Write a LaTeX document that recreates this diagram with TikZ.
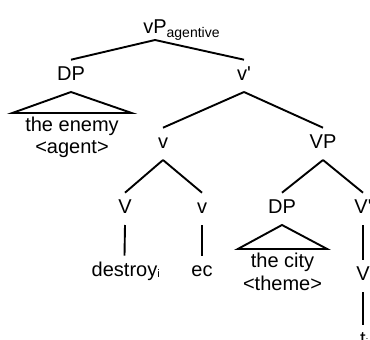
\documentclass[tikz,border=0pt]{standalone}
\usepackage{fontspec}
\setmainfont{Liberation Sans}
\newcommand\lowtxt[3]{\rlap{\raisebox{-#1}{\fontsize{#2}{#2}\selectfont #3}}}
\begin{document}
\begin{tikzpicture}[x=1pt,y=-1pt,
  cat/.style={font=\fontsize{20}{24}\selectfont, inner sep=0pt, outer sep=6pt,
    text height=14.3pt, text depth=6pt, anchor=base},
  phrase/.style={font=\fontsize{20}{24}\selectfont, inner xsep=13pt, inner ysep=3.7pt,
    outer sep=0pt, text height=14.3pt, text depth=0pt, anchor=base},
  role/.style={font=\fontsize{20}{24}\selectfont, inner sep=0pt, anchor=base},
  branch/.style={line width=1.9pt},
  roof/.style={line width=1.9pt, line join=miter}]
\useasboundingbox (0,0) rectangle (370,340);
\clip (0,0) rectangle (370,340);

% categories
\node[cat, text depth=1pt] (vP) at (155,33) {vP\lowtxt{4pt}{14}{agentive}};
\node[cat] (DPa) at (71,80) {DP};
\node[cat] (vbar) at (244,80) {v\textquotesingle};
\node[cat] (v) at (163,148) {v};
\node[cat] (VP) at (323,148) {VP};
\node[cat] (V) at (125,213) {V};
\node[cat] (vlow) at (202,213) {v};
\node[cat] (DPb) at (282,213) {DP};
\node[cat] (Vbar) at (363,213) {V\textquotesingle};
\node[cat] (Vlow) at (363,280) {V};

% terminals
\node[cat] (destroy) at (124.5,276) {destroy\lowtxt{1pt}{11}{i}};
\node[cat] (ec) at (202,276) {ec};
\node[cat] (trace) at (363,345) {t\lowtxt{1pt}{11}{i}};

% phrases under roofs
\node[phrase] (enemy) at (72,131) {the enemy};
\node[role] (agent) at (72,153) {<agent>};
\node[phrase] (city) at (282.5,267) {the city};
\node[role] (theme) at (282.5,290) {<theme>};

% branches
\draw[branch] (vP.south) -- (DPa.north);
\draw[branch] (vP.south) -- (vbar.north);
\draw[branch] (vbar.south) -- (v.north);
\draw[branch] (vbar.south) -- (VP.north);
\draw[branch] (v.south) -- (V.north);
\draw[branch] (v.south) -- (vlow.north);
\draw[branch] (VP.south) -- (DPb.north);
\draw[branch] (VP.south) -- (Vbar.north);
\draw[branch] (V.south) -- (destroy.north);
\draw[branch] (vlow.south) -- (ec.north);
\draw[branch] (Vbar.south) -- (Vlow.north);
\draw[branch] (Vlow.south) -- (trace.north);

% roofs
\draw[roof] (DPa.south) -- (enemy.north west) -- (enemy.north east) -- cycle;
\draw[roof] (DPb.south) -- (city.north west) -- (city.north east) -- cycle;
\end{tikzpicture}
\end{document}
